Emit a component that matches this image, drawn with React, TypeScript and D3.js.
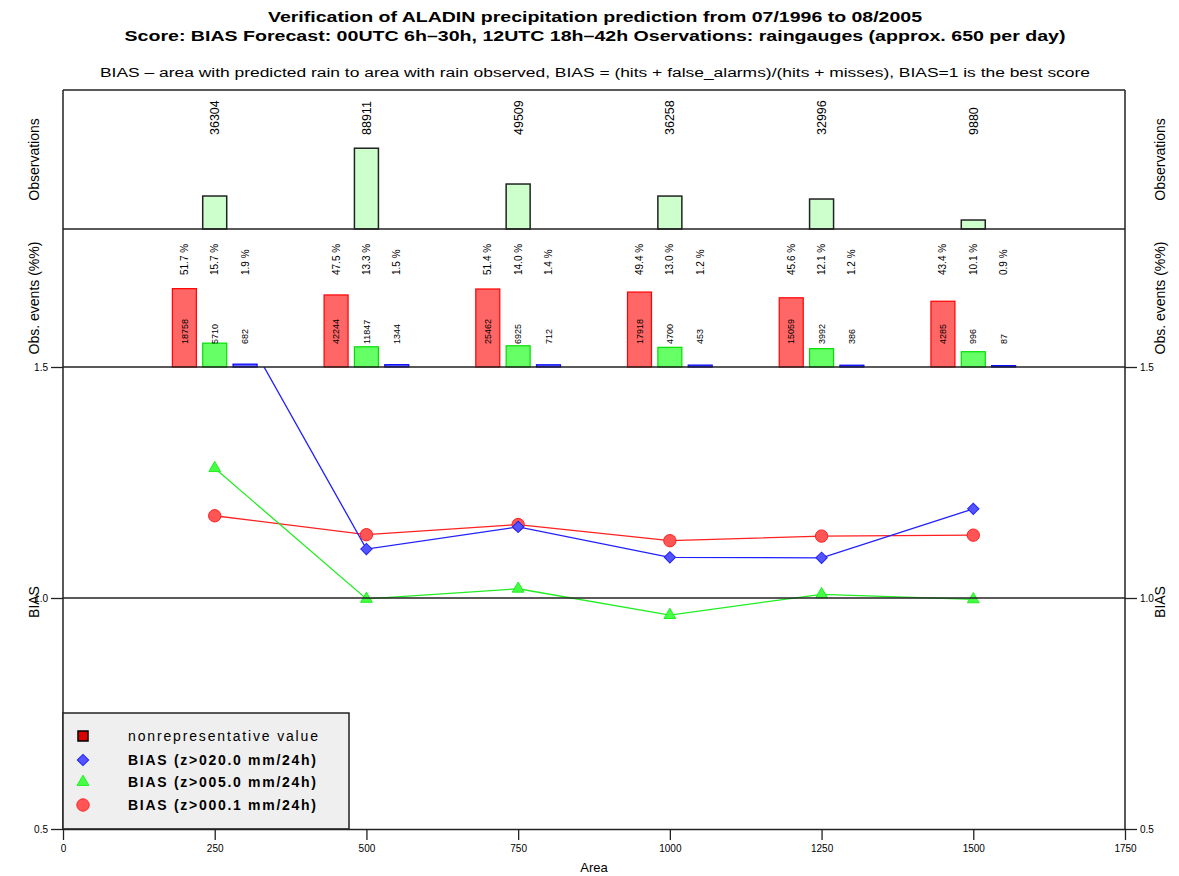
import React, { useRef, useEffect } from "react";
import * as d3 from "d3";

// area classes (x axis)
const areas = [250, 500, 750, 1000, 1250, 1500];
// number of observations per area class
const observations = [36304, 88911, 49509, 36258, 32996, 9880];
// observed events per threshold
const eventsLight = [18758, 42244, 25462, 17918, 15059, 4285]; // z>000.1
const eventsModerate = [5710, 11847, 6925, 4700, 3992, 996]; // z>005.0
const eventsHeavy = [682, 1344, 712, 453, 386, 87]; // z>020.0
// BIAS scores
const biasHeavy = [1.69, 1.106, 1.154, 1.088, 1.087, 1.193];
const biasModerate = [1.281, 0.998, 1.02, 0.963, 1.008, 0.997];
const biasLight = [1.178, 1.137, 1.159, 1.124, 1.134, 1.136];

const xTicks = [0, 250, 500, 750, 1000, 1250, 1500, 1750];
const biasTicks = [0.5, 1.0, 1.5];

const titleLines = [
  "Verification of ALADIN precipitation prediction from 07/1996 to 08/2005",
  "Score: BIAS Forecast: 00UTC 6h\u201330h, 12UTC 18h\u201342h Oservations: raingauges (approx. 650 per day)",
];
const subtitle =
  "BIAS \u2013 area with predicted rain to area with rain observed, BIAS = (hits + false_alarms)/(hits + misses), BIAS=1 is the best score";
const legendLabels = [
  "nonrepresentative value",
  "BIAS (z>020.0 mm/24h)",
  "BIAS (z>005.0 mm/24h)",
  "BIAS (z>000.1 mm/24h)",
];

const App = () => {
  const svgRef = useRef<SVGSVGElement>(null);

  useEffect(() => {
    const width = 1179;
    const height = 876;
    const left = 63, right = 1125, top = 90, obsBottom = 229, evBottom = 367, bottom = 829;
    const font = "'Liberation Sans', Arial, Helvetica, sans-serif";
    const ink = "#222";

    const svg = d3.select(svgRef.current);
    svg.selectAll("*").remove();
    svg.attr("width", width).attr("height", height).style("font-family", font);

    svg.append("rect").attr("width", width).attr("height", height).attr("fill", "#fff");

    const x = d3.scaleLinear().domain([0, 1750]).range([left, right]);
    const yObs = d3.scaleLinear().domain([0, 153000]).range([obsBottom, top]);
    const yEv = d3.scaleLinear().domain([0, 91]).range([evBottom, obsBottom]);
    const yBias = d3.scaleLinear().domain([0.5, 1.5]).range([bottom, evBottom]);
    const barW = 24;
    const pct = (v: number, i: number) => (100 * v) / observations[i];
    const fmt = d3.format(".1f");

    // Titles
    titleLines.forEach((t, i) => {
      svg.append("text")
        .attr("x", 595)
        .attr("y", 22 + i * 19)
        .attr("text-anchor", "middle")
        .attr("font-size", 15)
        .attr("font-weight", "bold")
        .attr("textLength", i === 0 ? 654 : 941)
        .attr("lengthAdjust", "spacingAndGlyphs")
        .text(t);
    });
    svg.append("text")
      .attr("x", 595)
      .attr("y", 77)
      .attr("text-anchor", "middle")
      .attr("font-size", 12)
      .attr("textLength", 990)
      .attr("lengthAdjust", "spacingAndGlyphs")
      .text(subtitle);

    // Observations panel
    const obsData = areas.map((a, i) => ({ a, v: observations[i] }));
    svg.selectAll(".obs")
      .data(obsData)
      .enter()
      .append("rect")
      .attr("x", d => x(d.a) - barW / 2)
      .attr("y", d => yObs(d.v))
      .attr("width", barW)
      .attr("height", d => obsBottom - yObs(d.v))
      .attr("fill", "#ccffcc")
      .attr("stroke", ink)
      .attr("stroke-width", 1.5);

    svg.selectAll(".obsLabel")
      .data(obsData)
      .enter()
      .append("text")
      .attr("transform", d => `translate(${x(d.a)},135) rotate(-90)`)
      .attr("dy", "0.35em")
      .attr("font-size", 12.5)
      .text(d => d.v);

    // Observed events panel
    const groups = [
      { vals: eventsLight, off: -50, fill: "#ff6666", stroke: "#ff0000" },
      { vals: eventsModerate, off: 0, fill: "#66ff66", stroke: "#00e000" },
      { vals: eventsHeavy, off: 50, fill: "#6666ff", stroke: "#0000ff" },
    ];
    groups.forEach(g => {
      const data = areas.map((a, i) => ({ a: a + g.off, n: g.vals[i], p: pct(g.vals[i], i) }));
      svg.selectAll(null)
        .data(data)
        .enter()
        .append("rect")
        .attr("x", d => x(d.a) - barW / 2)
        .attr("y", d => yEv(d.p))
        .attr("width", barW)
        .attr("height", d => evBottom - yEv(d.p))
        .attr("fill", g.fill)
        .attr("stroke", g.stroke)
        .attr("stroke-width", 1.2);

      svg.selectAll(null)
        .data(data)
        .enter()
        .append("text")
        .attr("transform", d => `translate(${x(d.a)},344) rotate(-90)`)
        .attr("dy", "0.35em")
        .attr("font-size", 9)
        .text(d => d.n);

      svg.selectAll(null)
        .data(data)
        .enter()
        .append("text")
        .attr("transform", d => `translate(${x(d.a)},275) rotate(-90)`)
        .attr("dy", "0.35em")
        .attr("font-size", 10)
        .text(d => `${fmt(d.p)} %`);
    });

    // BIAS panel
    svg.append("clipPath")
      .attr("id", "biasClip")
      .append("rect")
      .attr("x", left)
      .attr("y", evBottom)
      .attr("width", right - left)
      .attr("height", bottom - evBottom);

    const plot = svg.append("g").attr("clip-path", "url(#biasClip)");
    const line = d3.line<{ a: number; b: number }>()
      .x(d => x(d.a))
      .y(d => yBias(d.b));

    const series = [
      { vals: biasLight, color: "#ff2020", fill: "#ff5555", sym: d3.symbolCircle, size: 120, rot: 0 },
      { vals: biasModerate, color: "#20ee20", fill: "#44ff44", sym: d3.symbolTriangle, size: 60, rot: 0 },
      { vals: biasHeavy, color: "#2020ff", fill: "#5555ff", sym: d3.symbolSquare, size: 64, rot: 45 },
    ];
    series.forEach(s => {
      const data = areas.map((a, i) => ({ a, b: s.vals[i] }));
      plot.append("path")
        .datum(data)
        .attr("d", line)
        .attr("fill", "none")
        .attr("stroke", s.color)
        .attr("stroke-width", 1.3);
    });

    // reference lines
    [1.0, 1.5].forEach(v => {
      svg.append("line")
        .attr("x1", left).attr("x2", right)
        .attr("y1", yBias(v)).attr("y2", yBias(v))
        .attr("stroke", ink).attr("stroke-width", 1.5);
    });

    series.forEach(s => {
      const data = areas.map((a, i) => ({ a, b: s.vals[i] }));
      plot.selectAll(null)
        .data(data)
        .enter()
        .append("path")
        .attr("d", d3.symbol(s.sym, s.size)())
        .attr("transform", d => `translate(${x(d.a)},${yBias(d.b)}) rotate(${s.rot})`)
        .attr("fill", s.fill)
        .attr("stroke", s.color)
        .attr("stroke-width", 1);
    });

    // frame
    [top, obsBottom].forEach(yy => {
      svg.append("line")
        .attr("x1", left).attr("x2", right)
        .attr("y1", yy).attr("y2", yy)
        .attr("stroke", ink).attr("stroke-width", 1.5);
    });
    svg.append("line").attr("x1", left).attr("x2", left).attr("y1", top).attr("y2", bottom)
      .attr("stroke", ink).attr("stroke-width", 1.5);
    svg.append("line").attr("x1", right).attr("x2", right).attr("y1", top).attr("y2", bottom)
      .attr("stroke", ink).attr("stroke-width", 1.5);

    // Legend
    const lg = svg.append("g");
    lg.append("rect")
      .attr("x", left).attr("y", 713)
      .attr("width", 286).attr("height", bottom - 713)
      .attr("fill", "#efefef").attr("stroke", ink).attr("stroke-width", 1.5);
    const rows = [736, 760, 782, 805];
    lg.append("rect")
      .attr("x", 78).attr("y", rows[0] - 5)
      .attr("width", 10).attr("height", 10)
      .attr("fill", "#dd0000").attr("stroke", "#000").attr("stroke-width", 1.5);
    [series[2], series[1], series[0]].forEach((s, i) => {
      lg.append("path")
        .attr("d", d3.symbol(s.sym, s.size)())
        .attr("transform", `translate(83,${rows[i + 1]}) rotate(${s.rot})`)
        .attr("fill", s.fill)
        .attr("stroke", s.color);
    });
    legendLabels.forEach((t, i) => {
      lg.append("text")
        .attr("x", 128)
        .attr("y", rows[i] + 5)
        .attr("font-size", 14)
        .attr("font-weight", i === 0 ? "normal" : "bold")
        .attr("textLength", i === 0 ? 190 : 188)
        .attr("lengthAdjust", "spacing")
        .text(t);
    });

    // x axis
    const xAxis = svg.append("g").attr("transform", `translate(0,${bottom})`)
      .call(d3.axisBottom(x).tickValues(xTicks).tickSize(11).tickSizeOuter(0).tickFormat(d3.format("d")));
    xAxis.select(".domain").attr("stroke", ink).attr("stroke-width", 1.5);
    xAxis.selectAll(".tick line").attr("stroke", ink).attr("stroke-width", 1.3);
    xAxis.selectAll(".tick text").attr("font-size", 10).attr("font-family", font).attr("fill", "#000").attr("dy", "0.9em");
    svg.append("text").attr("x", 594).attr("y", 872).attr("text-anchor", "middle")
      .attr("font-size", 13).text("Area");

    // y axes (BIAS)
    const yl = svg.append("g").attr("transform", `translate(${left},0)`)
      .call(d3.axisLeft(yBias).tickValues(biasTicks).tickSize(12).tickFormat(d3.format(".1f")));
    const yr = svg.append("g").attr("transform", `translate(${right},0)`)
      .call(d3.axisRight(yBias).tickValues(biasTicks).tickSize(12).tickFormat(d3.format(".1f")));
    [yl, yr].forEach(ax => {
      ax.select(".domain").remove();
      ax.selectAll(".tick line").attr("stroke", ink).attr("stroke-width", 1.3);
      ax.selectAll(".tick text").attr("font-size", 10).attr("font-family", font).attr("fill", "#000");
    });

    // panel titles
    const panelTitles = [
      { t: "Observations", c: (top + obsBottom) / 2 },
      { t: "Obs. events (%%)", c: (obsBottom + evBottom) / 2 },
      { t: "BIAS", c: (evBottom + bottom) / 2 + 4 },
    ];
    [34, 1160].forEach(px => {
      panelTitles.forEach(p => {
        svg.append("text")
          .attr("transform", `translate(${px},${p.c}) rotate(-90)`)
          .attr("text-anchor", "middle")
          .attr("dy", "0.35em")
          .attr("font-size", 14)
          .text(p.t);
      });
    });
  }, []);

  return <svg ref={svgRef} style={{ position: "absolute", left: 0, top: 0 }}></svg>;
};

export default App;
